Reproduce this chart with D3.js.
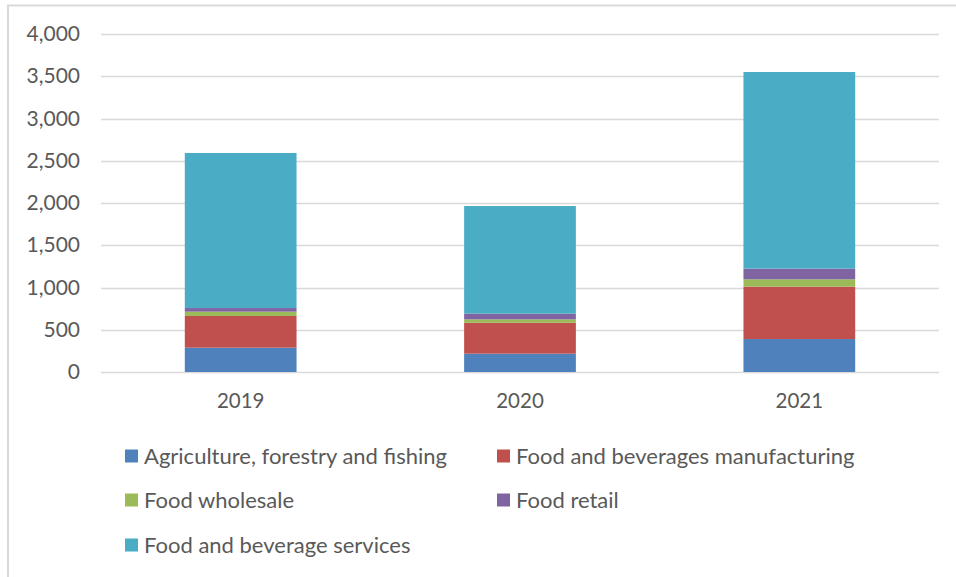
<!DOCTYPE html>
<html>
<head>
<meta charset="utf-8">
<script src="https://cdn.jsdelivr.net/npm/d3@7"></script>
<style>
  html, body { margin: 0; padding: 0; background: #fff; }
  svg { display: block; font-family: Lato, "Open Sans", sans-serif; }
</style>
</head>
<body>
<svg id="chart" width="956" height="577"></svg>
<script>
// Years on the category axis
const years = ["2019", "2020", "2021"];

// Sector names, in stacking order (bottom to top)
const sectors = [
  "Agriculture, forestry and fishing",
  "Food and beverages manufacturing",
  "Food wholesale",
  "Food retail",
  "Food and beverage services"
];

// Values per sector, one per year
const agriculture   = [288, 217, 390];
const manufacturing = [375, 366, 620];
const wholesale     = [51, 40, 87];
const retail        = [43, 67, 126];
const services      = [1835, 1274, 2327];

const yTicks = [0, 500, 1000, 1500, 2000, 2500, 3000, 3500, 4000];
const colors = ["#4F81BD", "#C0504D", "#9BBB59", "#8064A2", "#4BACC6"];

const seriesValues = [agriculture, manufacturing, wholesale, retail, services];
const rows = years.map((yr, i) => {
  const r = { year: yr };
  sectors.forEach((s, k) => { r[s] = seriesValues[k][i]; });
  return r;
});

const svg = d3.select("#chart");

// Outer frame (top and left edges visible)
svg.append("path")
  .attr("d", "M8,577 V5.5 H956")
  .attr("fill", "none")
  .attr("stroke", "#D9D9D9")
  .attr("stroke-width", 2);

const plot = { left: 101, right: 939, top: 34, bottom: 372 };

const x = d3.scaleBand()
  .domain(years)
  .range([plot.left, plot.right])
  .paddingInner(0.6)
  .paddingOuter(0.3);

const y = d3.scaleLinear()
  .domain([0, 4000])
  .range([plot.bottom, plot.top]);

// Gridlines
svg.append("g")
  .selectAll("line")
  .data(yTicks)
  .join("line")
  .attr("x1", plot.left)
  .attr("x2", plot.right)
  .attr("y1", d => Math.round(y(d)) + 0.5)
  .attr("y2", d => Math.round(y(d)) + 0.5)
  .attr("stroke", "#D9D9D9")
  .attr("stroke-width", 1.5);

// Y axis labels
const yAxis = d3.axisLeft(y).tickValues(yTicks).tickFormat(d3.format(",")).tickSize(0).tickPadding(0);
const gy = svg.append("g")
  .attr("transform", `translate(80,0)`)
  .call(yAxis);
gy.select(".domain").remove();
gy.selectAll("text")
  .attr("fill", "#595959")
  .style("font-size", "21px")
  .style("font-family", "Lato, 'Open Sans', sans-serif");

// Stacked bars
const stack = d3.stack().keys(sectors);
const layers = stack(rows);

svg.append("g")
  .selectAll("g")
  .data(layers)
  .join("g")
  .attr("fill", (d, i) => colors[i])
  .selectAll("rect")
  .data(d => d)
  .join("rect")
  .attr("x", d => x(d.data.year))
  .attr("width", x.bandwidth())
  .attr("y", d => y(d[1]))
  .attr("height", d => y(d[0]) - y(d[1]));

// X axis labels
const xAxis = d3.axisBottom(x).tickSize(0).tickPadding(0);
const gx = svg.append("g")
  .attr("transform", `translate(0,${plot.bottom + 21})`)
  .call(xAxis);
gx.select(".domain").remove();
gx.selectAll("text")
  .attr("fill", "#595959")
  .style("font-size", "20.5px")
  .style("font-family", "Lato, 'Open Sans', sans-serif");

// Legend
const legendPos = [
  { x: 125, y: 456 },
  { x: 497, y: 456 },
  { x: 125, y: 500 },
  { x: 497, y: 500 },
  { x: 125, y: 545 }
];
const legend = svg.append("g")
  .selectAll("g")
  .data(sectors)
  .join("g")
  .attr("transform", (d, i) => `translate(${legendPos[i].x},${legendPos[i].y})`);
legend.append("rect")
  .attr("x", 0).attr("y", -6.5)
  .attr("width", 13).attr("height", 13)
  .attr("fill", (d, i) => colors[i]);
legend.append("text")
  .attr("x", 19).attr("y", 0)
  .attr("dy", "0.35em")
  .attr("fill", "#595959")
  .style("font-size", "22px")
  .text(d => d);
</script>
</body>
</html>
